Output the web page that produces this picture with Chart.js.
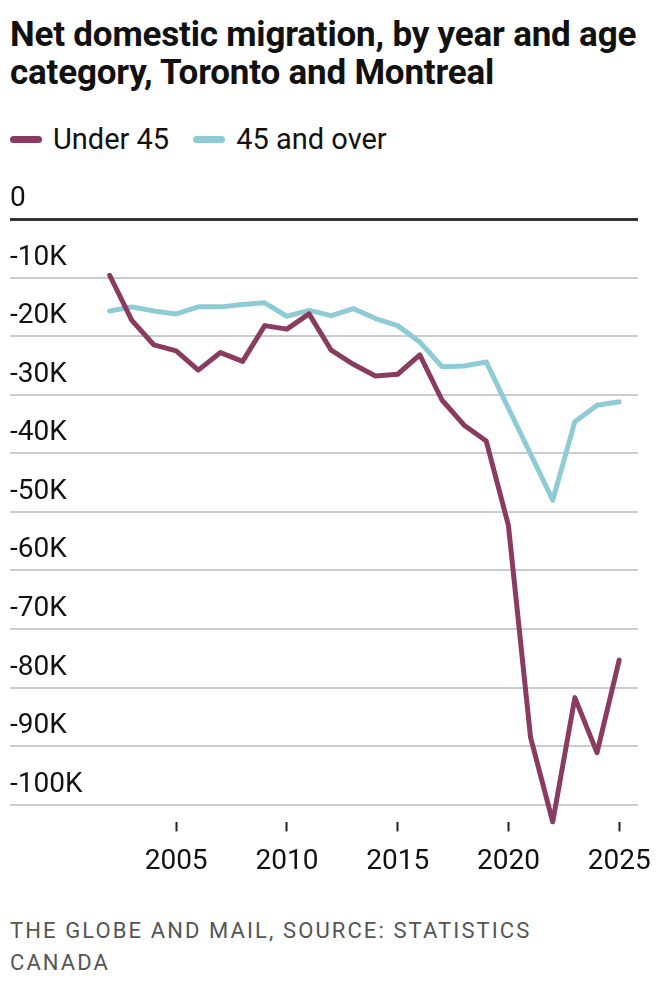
<!DOCTYPE html>
<html>
<head>
<meta charset="utf-8">
<script src="https://cdn.jsdelivr.net/npm/chart.js@4"></script>
<style>
  body { margin: 0; background: #fff; width: 660px; height: 986px; overflow: hidden; font-family: Roboto, "Open Sans", sans-serif; color: #111; position: relative; }
  #title { position: absolute; left: 10px; top: 16px; width: 648px; font-weight: bold; font-size: 35px; line-height: 38px; letter-spacing: -0.2px; }
  #legend { position: absolute; left: 10px; top: 121px; font-size: 29px; line-height: 36px; white-space: nowrap; }
  #legend span.key { display: inline-block; width: 32px; height: 7px; border-radius: 4px; vertical-align: middle; margin-right: 11px; position: relative; top: -2px; }
  #legend span.item { margin-right: 24px; }
  #source { position: absolute; left: 10px; top: 915px; font-size: 22px; line-height: 32px; color: #555; letter-spacing: 2.1px; width: 570px; }
  #wrap { position: absolute; left: 0; top: 170px; width: 700px; height: 723px; }
</style>
</head>
<body>
<div id="title">Net domestic migration, by year and age category, Toronto and Montreal</div>
<div id="legend"></div>
<div id="wrap"><canvas id="chartMig"></canvas></div>
<div id="source">THE GLOBE AND MAIL, SOURCE: STATISTICS CANADA</div>
<script>
var years = [2002, 2003, 2004, 2005, 2006, 2007, 2008, 2009, 2010, 2011, 2012, 2013,
             2014, 2015, 2016, 2017, 2018, 2019, 2020, 2021, 2022, 2023, 2024, 2025];
var under45 = [-9600, -17300, -21500, -22500, -25800, -22800, -24300, -18200, -18800, -16200, -22400, -24800,
               -26800, -26500, -23200, -30900, -35200, -37900, -52300, -88500, -102900, -81700, -91100, -75300];
var over45 = [-15700, -15000, -15700, -16200, -15000, -15000, -14600, -14300, -16600, -15600, -16500, -15300,
              -17000, -18200, -21000, -25200, -25100, -24400, -32300, -40100, -48000, -34600, -31800, -31200];
var tickYears = [2005, 2010, 2015, 2020, 2025];
var tickValues = [0, -10000, -20000, -30000, -40000, -50000, -60000, -70000, -80000, -90000, -100000];
var seriesNames = ['Under 45', '45 and over'];
var seriesColors = ['#8a3c60', '#8ecbd5'];

function legend() {
    var html = '';
    for (var i = 0; i < seriesNames.length; i++) {
        html += '<span class="item"><span class="key" style="background:' + seriesColors[i] + '"></span>' + seriesNames[i] + '</span>';
    }
    document.getElementById('legend').innerHTML = html;
}

function points(values) {
    return years.map(function (y, i) { return {x: y, y: values[i]}; });
}

function drawChart() {
    var ctx = document.getElementById('chartMig');
    var data = {
        datasets: [{
            label: seriesNames[0],
            data: points(under45),
            borderColor: seriesColors[0],
            borderWidth: 5,
            pointRadius: 0,
            borderJoinStyle: 'round',
            borderCapStyle: 'round',
            clip: false
        }, {
            label: seriesNames[1],
            data: points(over45),
            borderColor: seriesColors[1],
            borderWidth: 5,
            pointRadius: 0,
            borderJoinStyle: 'round',
            borderCapStyle: 'round',
            clip: false
        }]
    };
    var options = {
        responsive: true,
        maintainAspectRatio: false,
        animation: false,
        // canvas is 700 wide, right padding keeps plot edge at x=638
        layout: { padding: { left: 10, right: 62, top: 49, bottom: 0 } },
        plugins: { legend: { display: false }, tooltip: { enabled: false } },
        scales: {
            x: {
                type: 'linear',
                min: 1997.5,
                max: 2025.85,
                afterBuildTicks: function (axis) {
                    axis.ticks = tickYears.map(function (v) { return {value: v}; });
                },
                border: { display: false },
                grid: { drawOnChartArea: false, drawTicks: true, tickLength: 9, tickWidth: 2, tickColor: '#222' },
                ticks: {
                    padding: 14,
                    color: '#111',
                    font: { family: 'Roboto', size: 28 },
                    maxRotation: 0,
                    callback: function (v) { return String(v); }
                }
            },
            y: {
                min: -103000,
                max: 0,
                afterBuildTicks: function (axis) {
                    axis.ticks = tickValues.map(function (v) { return {value: v}; });
                },
                border: { display: false },
                grid: {
                    drawTicks: false,
                    color: function (c) { return c.tick.value === 0 ? '#333' : '#cccccc'; },
                    lineWidth: function (c) { return c.tick.value === 0 ? 3 : 2; }
                },
                ticks: {
                    mirror: true,
                    padding: 0,
                    labelOffset: -20,
                    color: '#111',
                    font: { family: 'Roboto', size: 28 },
                    callback: function (v) { return v === 0 ? '0' : (v / 1000) + 'K'; }
                }
            }
        }
    };
    new Chart(ctx, { type: 'line', data: data, options: options });
}

legend();
drawChart();
</script>
</body>
</html>
